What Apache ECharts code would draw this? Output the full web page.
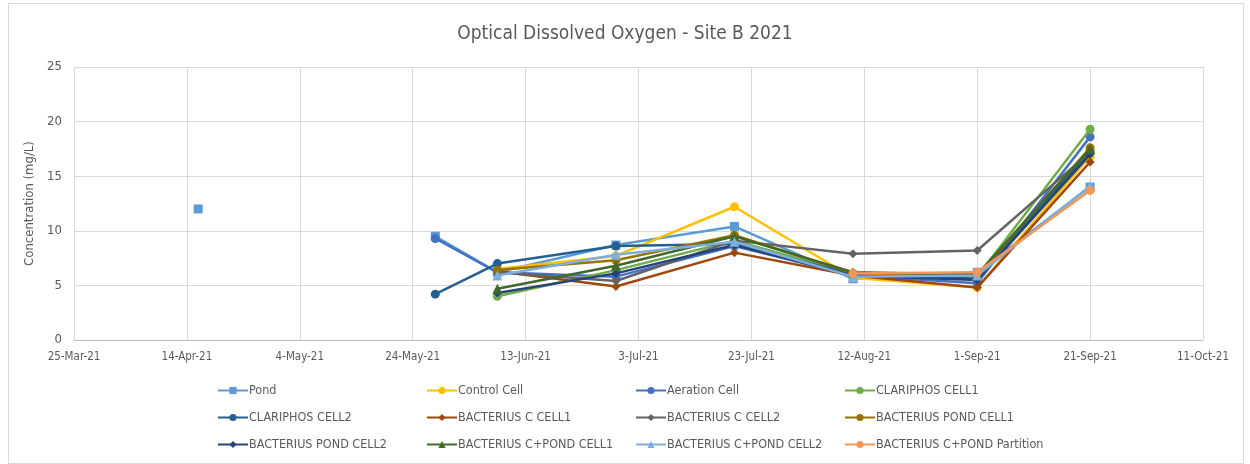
<!DOCTYPE html>
<html>
<head>
<meta charset="utf-8">
<script src="https://cdn.jsdelivr.net/npm/echarts@6/dist/echarts.min.js"></script>
<style>
	html, body { margin: 0; padding: 0; background: #fff; }
	#chart { width: 1250px; height: 464px; }
</style>
</head>
<body>
<div id="chart"></div>
<script>
//	采样日期 (空行用 null 断开)
var sampleDates = ['2021-04-16', '2021-05-07', '2021-05-28', '2021-06-08', '2021-06-29', '2021-07-20', '2021-08-10', '2021-09-01', '2021-09-21'];
var seriesNames = ['Pond', 'Control Cell', 'Aeration Cell', 'CLARIPHOS CELL1',
	'CLARIPHOS CELL2', 'BACTERIUS C CELL1', 'BACTERIUS C CELL2', 'BACTERIUS POND CELL1',
	'BACTERIUS POND CELL2', 'BACTERIUS C+POND CELL1', 'BACTERIUS C+POND CELL2', 'BACTERIUS C+POND Partition'];

var pond          = [12.0, null, 9.5, 6.2, 8.7, 10.4, 5.6, 6.2, 14.0];
var controlCell   = [null, null, null, 6.5, 7.7, 12.2, 5.7, 4.8, 16.8];
var aerationCell  = [null, null, 9.3, 6.2, 5.8, 8.6, 5.9, 5.2, 18.6];
var clariphos1    = [null, null, null, 4.0, 6.4, 9.1, 6.1, 5.8, 19.3];
var clariphos2    = [null, null, 4.2, 7.0, 8.6, 8.8, 6.0, 5.6, 17.3];
var bactC1        = [null, null, null, 6.3, 4.9, 8.0, 5.9, 4.8, 16.3];
var bactC2        = [null, null, null, 6.2, 5.4, 9.1, 7.9, 8.2, 17.2];
var bactPond1     = [null, null, null, 6.4, 7.3, 9.6, 6.1, 5.9, 17.6];
var bactPond2     = [null, null, null, 4.3, 6.1, 8.7, 5.9, 5.5, 17.0];
var bactCPond1    = [null, null, null, 4.7, 6.8, 9.5, 6.2, 6.0, 17.5];
var bactCPond2    = [null, null, null, 5.9, 7.8, 9.0, 5.8, 5.9, 14.1];
var bactPartition = [null, null, null, null, null, null, 6.1, 6.2, 13.7];

var allValues = [pond, controlCell, aerationCell, clariphos1, clariphos2, bactC1,
	bactC2, bactPond1, bactPond2, bactCPond1, bactCPond2, bactPartition];

//	x轴刻度 (每20天)
var xStart = '2021-03-25';
var xEnd = '2021-10-11';
var yTicks = [0, 5, 10, 15, 20, 25];

var colors = ['#5B9BD5', '#FFC000', '#4472C4', '#70AD47', '#255E91', '#9E480E',
	'#636363', '#997300', '#264478', '#43682B', '#7CAFDD', '#F1975A'];
var symbols = ['rect', 'circle', 'circle', 'circle', 'circle', 'diamond',
	'diamond', 'circle', 'diamond', 'triangle', 'triangle', 'circle'];

var DAY = 24 * 60 * 60 * 1000;
var baseTime = Date.UTC(2021, 2, 25);
function toDay(str) {
	var p = str.split('-');
	return Math.round((Date.UTC(+p[0], +p[1] - 1, +p[2]) - baseTime) / DAY);
}
var monthNames = ['Jan', 'Feb', 'Mar', 'Apr', 'May', 'Jun', 'Jul', 'Aug', 'Sep', 'Oct', 'Nov', 'Dec'];
function dayLabel(d) {
	var t = new Date(baseTime + d * DAY);
	return t.getUTCDate() + '-' + monthNames[t.getUTCMonth()] + '-' + String(t.getUTCFullYear()).slice(2);
}

var fontName = '"DejaVu Sans Condensed", "Liberation Sans Narrow", "Liberation Sans", sans-serif';
var textColor = '#595959';

var series = seriesNames.map(function(name, i) {
	return {
		name: name,
		type: 'line',
		symbol: symbols[i],
		symbolSize: symbols[i] === 'triangle' ? 10 : 9,
		connectNulls: false,
		lineStyle: { width: 2.5, color: colors[i] },
		itemStyle: { color: colors[i] },
		data: sampleDates.map(function(d, k) {
			return [toDay(d), allValues[i][k] == null ? '-' : allValues[i][k]];
		}),
		z: 2 + i
	};
});

//	图例: 每列一个
var legendCols = [[0, 4, 8], [1, 5, 9], [2, 6, 10], [3, 7, 11]];
var legends = legendCols.map(function(col, c) {
	return {
		orient: 'vertical',
		left: 212 + c * 209,
		top: 379,
		itemGap: 14,
		itemWidth: 30,
		itemHeight: 9,
		data: col.map(function(i) { return seriesNames[i]; }),
		textStyle: { color: textColor, fontSize: 12.5, fontFamily: fontName, padding: [0, 0, 0, -4] }
	};
});

var chart = echarts.init(document.getElementById('chart'));
chart.setOption({
	backgroundColor: '#fff',
	animation: false,
	title: {
		text: 'Optical Dissolved Oxygen - Site B 2021',
		left: 'center',
		top: 20,
		textStyle: { color: textColor, fontSize: 19, fontWeight: 'normal', fontFamily: fontName }
	},
	graphic: [{
		type: 'rect',
		shape: { x: 8.5, y: 3.5, width: 1235, height: 460 },
		style: { fill: 'none', stroke: '#d9d9d9', lineWidth: 1 },
		silent: true
	}],
	legend: legends,
	grid: { left: 74, right: 47, top: 67, bottom: 124 },
	xAxis: {
		type: 'value',
		min: toDay(xStart),
		max: toDay(xEnd),
		interval: 20,
		axisLine: { show: true, lineStyle: { color: '#bfbfbf', width: 1 } },
		axisTick: { show: false },
		splitLine: { show: true, lineStyle: { color: '#d9d9d9', width: 1 } },
		axisLabel: {
			color: textColor, fontSize: 11.5, fontFamily: fontName, margin: 11,
			formatter: function(v) { return dayLabel(v); }
		}
	},
	yAxis: {
		type: 'value',
		min: yTicks[0],
		max: yTicks[yTicks.length - 1],
		interval: 5,
		name: 'Concentration (mg/L)',
		nameLocation: 'middle',
		nameGap: 27,
		nameTextStyle: { color: textColor, fontSize: 13, fontFamily: fontName },
		axisLine: { show: false },
		axisTick: { show: false },
		splitLine: { lineStyle: { color: '#d9d9d9', width: 1 } },
		axisLabel: { color: textColor, fontSize: 13, fontFamily: fontName, margin: 12 }
	},
	series: series
});
</script>
</body>
</html>
